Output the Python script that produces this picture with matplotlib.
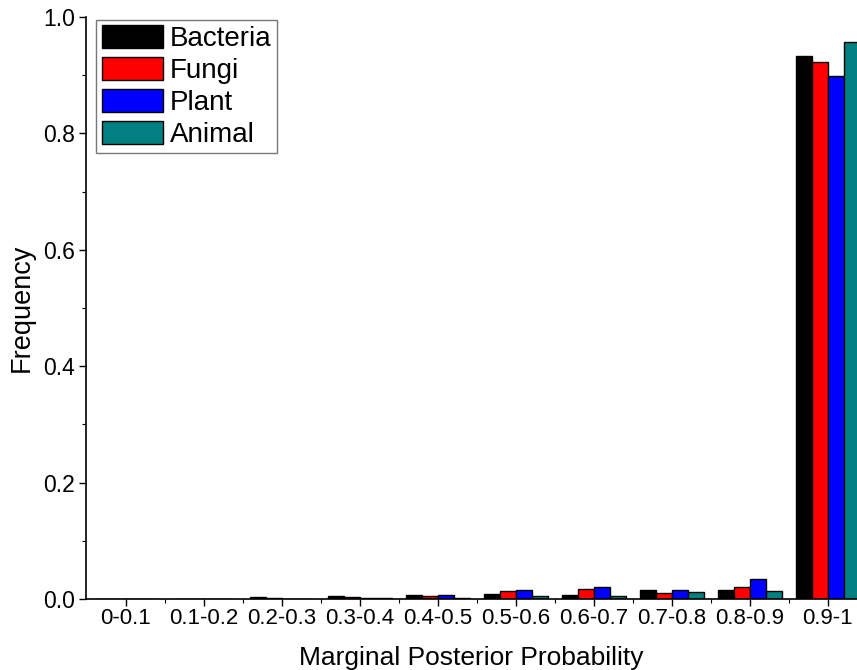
import numpy as np
import matplotlib.pyplot as plt
from matplotlib.ticker import MultipleLocator, FixedLocator, FormatStrFormatter

plt.switch_backend('Agg')
plt.rcParams['font.family'] = ['Liberation Sans', 'DejaVu Sans']

# 数据
categories = ['0-0.1', '0.1-0.2', '0.2-0.3', '0.3-0.4', '0.4-0.5',
              '0.5-0.6', '0.6-0.7', '0.7-0.8', '0.8-0.9', '0.9-1']
bacteria = [0.0, 0.0, 0.004, 0.0055, 0.0075, 0.009, 0.007, 0.016, 0.016, 0.933]
fungi = [0.0, 0.0, 0.001, 0.004, 0.0045, 0.013, 0.017, 0.011, 0.021, 0.922]
plant = [0.0, 0.0, 0.0005, 0.002, 0.007, 0.016, 0.021, 0.016, 0.035, 0.898]
animal = [0.0, 0.0, 0.0, 0.001, 0.002, 0.006, 0.005, 0.012, 0.014, 0.957]

series = [('Bacteria', bacteria, '#000000'),
          ('Fungi', fungi, '#ff0000'),
          ('Plant', plant, '#0000ff'),
          ('Animal', animal, '#008080')]

fig = plt.figure(figsize=(8.57, 6.70), dpi=100)
ax = fig.add_axes([86 / 857, 71 / 670, 1 - 86 / 857, 582 / 670])

x = np.arange(len(categories))
w = 0.205
for i, (name, vals, col) in enumerate(series):
    ax.bar(x + (i - 1.5) * w, vals, width=w, color=col, edgecolor='black',
           linewidth=1.0, label=name)

ax.set_xlim(-0.51, 9.375)
ax.set_ylim(0, 1.0)
ax.set_xticks(x)
ax.set_xticklabels(categories, fontsize=16)
ax.xaxis.set_minor_locator(FixedLocator(x[:-1] + 0.5))
ax.yaxis.set_major_locator(MultipleLocator(0.2))
ax.yaxis.set_minor_locator(MultipleLocator(0.1))
ax.yaxis.set_major_formatter(FormatStrFormatter('%.1f'))
ax.tick_params(axis='y', labelsize=16.5)
ax.tick_params(axis='both', which='major', length=5, width=1.0, direction='out')
ax.tick_params(axis='both', which='minor', length=3, width=0.8, direction='out')
ax.tick_params(axis='x', pad=1.5)
ax.tick_params(axis='y', pad=3)

for side in ['top', 'right']:
    ax.spines[side].set_visible(False)
for side in ['left', 'bottom']:
    ax.spines[side].set_linewidth(1.2)

ax.set_xlabel('Marginal Posterior Probability', fontsize=19, labelpad=12)
ax.set_ylabel('Frequency', fontsize=19.5, labelpad=6)

leg = ax.legend(loc='upper left', bbox_to_anchor=(0.013, 0.995), fontsize=20,
                handlelength=2.2, handleheight=0.87, handletextpad=0.25,
                labelspacing=0.18, borderpad=0.2, fancybox=False,
                framealpha=1, borderaxespad=0)
leg.get_frame().set_edgecolor('#777777')
leg.get_frame().set_linewidth(1.0)

fig.savefig('out.png', dpi=100)
plt.close()
